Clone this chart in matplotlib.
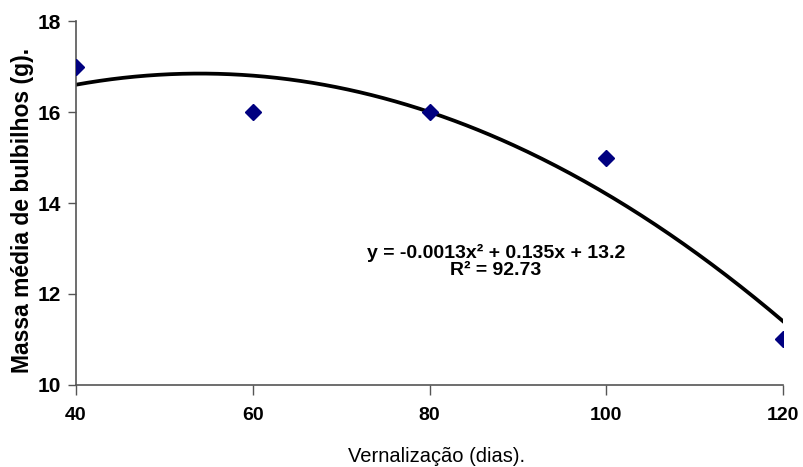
import numpy as np
import matplotlib
matplotlib.use('Agg')
import matplotlib.pyplot as plt

# data
dias = [40, 60, 80, 100, 120]
massa = [17, 16, 16, 15, 11]
x_ticks = [40, 60, 80, 100, 120]
y_ticks = [10, 12, 14, 16, 18]

eq_text = 'y = -0.0013x² + 0.135x + 13.2\nR² = 92.73'

plt.rcParams['font.family'] = ['Liberation Sans', 'DejaVu Sans']


def main():
    fig = plt.figure(figsize=(8.04, 4.67), dpi=100)
    ax = fig.add_axes([0.0945, 0.1756, 0.8795, 0.7794])

    # quadratic trendline fitted to the points
    coef = np.polyfit(dias, massa, 2)
    xx = np.linspace(40, 120, 300)
    ax.plot(xx, np.polyval(coef, xx), color='black', lw=2.7, zorder=2)

    ax.plot(dias, massa, ls='none', marker='D', ms=8.5, color='#000080', zorder=3)

    ax.set_xlim(40, 120)
    ax.set_ylim(10, 18)
    ax.set_xticks(x_ticks)
    ax.set_yticks(y_ticks)
    ax.set_xticklabels([str(v) for v in x_ticks], fontsize=14, fontweight='bold')
    ax.set_yticklabels([str(v) for v in y_ticks], fontsize=15, fontweight='bold')
    ax.tick_params(axis='x', length=7, width=1, color='#555555', pad=9)
    ax.tick_params(axis='y', length=6, width=1, color='#555555', pad=5)

    for s in ['top', 'right']:
        ax.spines[s].set_visible(False)
    for s in ['left', 'bottom']:
        ax.spines[s].set_color('#555555')
        ax.spines[s].set_linewidth(1.2)

    ax.set_xlabel('Vernalização (dias).', fontsize=14.5)
    ax.xaxis.set_label_coords(0.51, -0.17)
    ax.set_ylabel('Massa média de bulbilhos (g).', fontsize=16.5, fontweight='bold')
    ax.yaxis.set_label_coords(-0.06, 0.48)

    ax.text(87.5, 12.72, eq_text, fontsize=14, fontweight='bold',
            ha='center', va='center', linespacing=1.0)

    fig.savefig('out.png', dpi=100)


if __name__ == "__main__":
    main()
